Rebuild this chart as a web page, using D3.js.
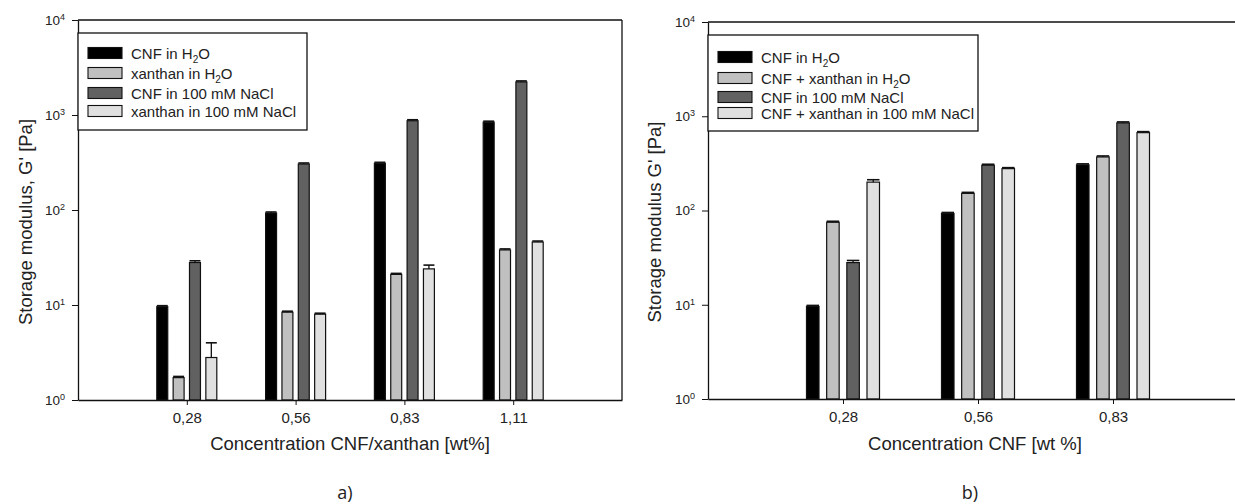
<!DOCTYPE html>
<html>
<head>
<meta charset="utf-8">
<script src="https://cdn.jsdelivr.net/npm/d3@7"></script>
<style>
  body { margin: 0; background: #fff; }
  svg { display: block; font-family: "Liberation Sans", Arial, sans-serif; }
</style>
</head>
<body>
<svg id="chart" width="1235" height="504"></svg>
<script>
// ---- panel a) data ----
const catsA = ["0,28", "0,56", "0,83", "1,11"];
const cnfH2O_A = [9.6, 93, 310, 840];
const cnfH2O_A_err = [0.2, 1, 3, 12];
const xanH2O_A = [1.72, 8.4, 21, 38];
const xanH2O_A_err = [0.05, 0.1, 0.3, 0.5];
const cnfNaCl_A = [28, 305, 870, 2230];
const cnfNaCl_A_err = [1.2, 3, 10, 30];
const xanNaCl_A = [2.8, 8.0, 24, 46];
const xanNaCl_A_err = [1.2, 0.1, 2.3, 0.6];

// ---- panel b) data ----
const catsB = ["0,28", "0,56", "0,83"];
const cnfH2O_B = [9.6, 93, 305];
const cnfH2O_B_err = [0.2, 1, 3];
const cnfXanH2O_B = [75, 152, 370];
const cnfXanH2O_B_err = [0.8, 1.5, 4];
const cnfNaCl_B = [28, 302, 850];
const cnfNaCl_B_err = [1.5, 3, 9];
const cnfXanNaCl_B = [200, 278, 670];
const cnfXanNaCl_B_err = [12, 3, 7];

const yTicks = [1, 10, 100, 1000, 10000];
const fills = ["#000000", "#c0c0c0", "#616161", "#e0e0e0"];

const svg = d3.select("#chart");

function drawPanel(cfg) {
  const g = svg.append("g");
  const x = d3.scalePoint().domain(cfg.cats).range([cfg.x0, cfg.x1]).padding(1);
  const sub = d3.scaleBand().domain(d3.range(cfg.series.length))
      .range([-cfg.groupW / 2, cfg.groupW / 2]).paddingInner(cfg.gap);
  const y = d3.scaleLog().domain([1, 10000]).range([cfg.y0, cfg.y1]);

  // frame: top and right lines
  g.append("line").attr("x1", cfg.x0).attr("x2", cfg.x1).attr("y1", cfg.y1).attr("y2", cfg.y1)
      .attr("stroke", "#111").attr("stroke-width", 1.3);
  g.append("line").attr("x1", cfg.x1).attr("x2", cfg.x1).attr("y1", cfg.y1).attr("y2", cfg.y0)
      .attr("stroke", "#111").attr("stroke-width", 1.3);

  // bars
  cfg.series.forEach(function (s, i) {
    const sg = g.append("g");
    sg.selectAll("rect").data(s.values).enter().append("rect")
        .attr("x", function (d, j) { return x(cfg.cats[j]) + sub(i); })
        .attr("y", function (d) { return y(d); })
        .attr("width", sub.bandwidth())
        .attr("height", function (d) { return cfg.y0 - y(d); })
        .attr("fill", fills[i])
        .attr("stroke", "#111").attr("stroke-width", 1.2);
    // error bars (upper only)
    s.values.forEach(function (v, j) {
      const cx = x(cfg.cats[j]) + sub(i) + sub.bandwidth() / 2;
      const yt = Math.min(y(v + s.err[j]), y(v) - 1);
      sg.append("line").attr("x1", cx).attr("x2", cx).attr("y1", y(v)).attr("y2", yt)
          .attr("stroke", "#111").attr("stroke-width", 1.3);
      sg.append("line").attr("x1", cx - sub.bandwidth() / 2).attr("x2", cx + sub.bandwidth() / 2)
          .attr("y1", yt).attr("y2", yt).attr("stroke", "#111").attr("stroke-width", 1.6);
    });
  });

  // y axis
  const ya = g.append("g").attr("transform", "translate(" + cfg.x0 + ",0)")
      .call(d3.axisLeft(y).tickValues(yTicks).tickSize(6).tickSizeOuter(0).tickPadding(7));
  ya.select(".domain").attr("stroke", "#111").attr("stroke-width", 1.3);
  ya.selectAll(".tick line").attr("stroke", "#111");
  ya.selectAll(".tick text").attr("font-size", 13.5).attr("fill", "#222")
      .attr("font-family", "Liberation Sans, Arial, sans-serif")
      .each(function (d) {
        const t = d3.select(this);
        t.text("10");
        t.append("tspan").attr("dy", "-0.55em").attr("font-size", 9).text(Math.round(Math.log10(d)));
      });

  // x axis
  const xa = g.append("g").attr("transform", "translate(0," + cfg.y0 + ")")
      .call(d3.axisBottom(x).tickSize(5).tickSizeOuter(0).tickPadding(7));
  xa.select(".domain").attr("stroke", "#111").attr("stroke-width", 1.3);
  xa.selectAll(".tick line").attr("stroke", "#111");
  xa.selectAll(".tick text").attr("font-size", 15).attr("fill", "#222")
      .attr("font-family", "Liberation Sans, Arial, sans-serif");

  // axis titles
  g.append("text").attr("transform", "translate(" + cfg.yTitleX + ",222) rotate(-90)")
      .attr("text-anchor", "middle").attr("font-size", 18.5).attr("fill", "#222").text(cfg.yTitle);
  g.append("text").attr("x", cfg.xTitleX).attr("y", 450).attr("text-anchor", "middle")
      .attr("font-size", 18.5).attr("fill", "#222").text(cfg.xTitle);
  g.append("text").attr("x", cfg.xTitleX - 5).attr("y", 499).attr("text-anchor", "middle")
      .attr("font-size", 18).attr("fill", "#222").attr("font-family", "Open Sans, sans-serif")
      .text(cfg.panel);

  // legend
  const lg = g.append("g");
  lg.append("rect").attr("x", cfg.x0).attr("y", cfg.leg.top)
      .attr("width", cfg.leg.w).attr("height", cfg.leg.h)
      .attr("fill", "#fff").attr("stroke", "#111").attr("stroke-width", 1.3);
  cfg.series.forEach(function (s, i) {
    const cy = cfg.leg.rows[i];
    lg.append("rect").attr("x", cfg.x0 + 10).attr("y", cy - 5.5).attr("width", 34).attr("height", 11)
        .attr("fill", fills[i]).attr("stroke", "#111").attr("stroke-width", 1.1);
    const t = lg.append("text").attr("x", cfg.x0 + 53).attr("y", cy + 5.5)
        .attr("font-size", 15).attr("fill", "#222");
    if (s.label.endsWith("H2O")) {
      t.append("tspan").text(s.label.slice(0, -2));
      t.append("tspan").attr("dy", 4).attr("font-size", 10).text("2");
      t.append("tspan").attr("dy", -4).text("O");
    } else {
      t.text(s.label);
    }
  });
}

drawPanel({
  cats: catsA, x0: 78, x1: 622, y0: 400, y1: 20,
  groupW: 60, gap: 0.33,
  series: [
    { label: "CNF in H2O", values: cnfH2O_A, err: cnfH2O_A_err },
    { label: "xanthan in H2O", values: xanH2O_A, err: xanH2O_A_err },
    { label: "CNF in 100 mM NaCl", values: cnfNaCl_A, err: cnfNaCl_A_err },
    { label: "xanthan in 100 mM NaCl", values: xanNaCl_A, err: xanNaCl_A_err }
  ],
  yTitle: "Storage modulus, G' [Pa]", yTitleX: 32,
  xTitle: "Concentration CNF/xanthan [wt%]", xTitleX: 350,
  panel: "a)",
  leg: { top: 33, w: 229, h: 97, rows: [53, 73, 93, 111] }
});

drawPanel({
  cats: catsB, x0: 708, x1: 1248, y0: 399, y1: 22,
  groupW: 73, gap: 0.38,
  series: [
    { label: "CNF in H2O", values: cnfH2O_B, err: cnfH2O_B_err },
    { label: "CNF + xanthan in H2O", values: cnfXanH2O_B, err: cnfXanH2O_B_err },
    { label: "CNF in 100 mM NaCl", values: cnfNaCl_B, err: cnfNaCl_B_err },
    { label: "CNF + xanthan in 100 mM NaCl", values: cnfXanNaCl_B, err: cnfXanNaCl_B_err }
  ],
  yTitle: "Storage modulus G' [Pa]", yTitleX: 661,
  xTitle: "Concentration CNF [wt %]", xTitleX: 975,
  panel: "b)",
  leg: { top: 35, w: 270, h: 96, rows: [57, 78, 97, 113] }
});
</script>
</body>
</html>
